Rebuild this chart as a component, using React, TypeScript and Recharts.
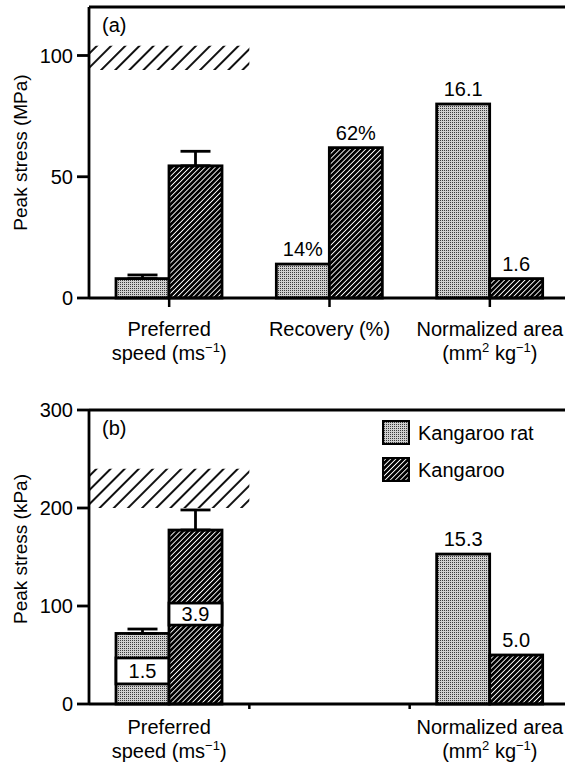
import React from 'react';
import { BarChart, Bar, XAxis, YAxis, ErrorBar, LabelList, ReferenceArea, ReferenceLine, Legend } from 'recharts';

const categories = ['Preferred speed', 'Recovery', 'Normalized area'];

// (a) peak stress, MPa
const ratPeakA = [8, 14, 80];
const kangarooPeakA = [54.5, 62, 8];
const ratErrA = [[0, 1.5], null, null];
const kangarooErrA = [[0, 6], null, null];
const ratTextA = ['', '14%', '16.1'];
const kangarooTextA = ['', '62%', '1.6'];
const yTicksA = [0, 50, 100];
const safeBandA = [94, 104];

// (b) peak stress, kPa
const ratPeakB = [72, null, 153];
const kangarooPeakB = [177.5, null, 50];
const ratErrB = [[0, 4.5], null, null];
const kangarooErrB = [[0, 20.5], null, null];
const ratTextB = ['', '', '15.3'];
const kangarooTextB = ['', '', '5.0'];
const ratInsetB = [{ lo: 20.5, hi: 47, text: '1.5' }, null, null];
const kangarooInsetB = [{ lo: 80.5, hi: 103, text: '3.9' }, null, null];
const yTicksB = [0, 100, 200, 300];
const safeBandB = [200, 240];

const tickLinesA = [['Preferred', 'speed (ms^{−1})'], ['Recovery (%)'], ['Normalized area', '(mm^{2} kg^{−1})']];
const tickLinesB = [['Preferred', 'speed (ms^{−1})'], [], ['Normalized area', '(mm^{2} kg^{−1})']];
const legendOrder = ['Kangaroo rat', 'Kangaroo'];

const dataA = categories.map((category, i) => ({
  category,
  rat: ratPeakA[i],
  kangaroo: kangarooPeakA[i],
  ratErr: ratErrA[i],
  kangarooErr: kangarooErrA[i],
  ratText: ratTextA[i],
  kangarooText: kangarooTextA[i],
}));

const dataB = categories.map((category, i) => ({
  category,
  rat: ratPeakB[i],
  kangaroo: kangarooPeakB[i],
  ratErr: ratErrB[i],
  kangarooErr: kangarooErrB[i],
  ratText: ratTextB[i],
  kangarooText: kangarooTextB[i],
  ratInset: ratInsetB[i],
  kangarooInset: kangarooInsetB[i],
}));

const fontFamily = '"Liberation Sans", Arial, Helvetica, sans-serif';
const ink = '#000';

const withSup = (s: string) => {
  const parts = s.split(/\^\{(.*?)\}/);
  let raised = false;
  return parts.map((p, i) => {
    const sup = i % 2 === 1;
    let dy = 0;
    if (sup && !raised) { dy = -8; raised = true; }
    else if (!sup && raised) { dy = 8; raised = false; }
    return (
      <tspan key={i} dy={dy || undefined} fontSize={sup ? 13 : undefined}>{p}</tspan>
    );
  });
};

const CategoryTick = (props: any) => {
  const { x, y, payload, lines, mode, labelTop } = props;
  const idx = payload.index;
  const half = payload.offset || 80;
  const txt: string[] = lines[idx] || [];
  return (
    <g>
      {mode === 'center' && <line x1={x} x2={x} y1={y} y2={y + 9} stroke={ink} strokeWidth={2.5} />}
      {mode === 'between' && idx < lines.length - 1 && (
        <line x1={x + half} x2={x + half} y1={y} y2={y + 5} stroke={ink} strokeWidth={2.5} />
      )}
      {txt.map((line, j) => (
        <text key={j} x={x} y={y + labelTop + j * 24} textAnchor="middle" fontSize={20} fill={ink}>
          {withSup(line)}
        </text>
      ))}
    </g>
  );
};

const AxisTitle = ({ viewBox, text, shift = 0 }: any) => {
  const cx = viewBox.x + 27;
  const cy = viewBox.y + viewBox.height / 2 + shift;
  return (
    <text x={cx} y={cy} transform={`rotate(-90, ${cx}, ${cy})`} textAnchor="middle" fontSize={19} fill={ink}>
      {text}
    </text>
  );
};

const PanelTag = ({ viewBox, text }: any) => (
  <text x={viewBox.x + 13} y={viewBox.y + 25} fontSize={20} fill={ink}>{text}</text>
);

const PatternBar = (props: any) => {
  const { x, y, width, height, fill, payload, valueKey, insetKey } = props;
  const v = payload[valueKey];
  if (v == null || !height) return null;
  const inset = insetKey ? payload[insetKey] : null;
  const base = y + height;
  const perUnit = height / v;
  return (
    <g>
      <rect x={x} y={y} width={width} height={height} fill={fill} stroke={ink} strokeWidth={2.8} />
      {inset && (
        <g>
          <rect
            x={x}
            y={base - inset.hi * perUnit}
            width={width}
            height={(inset.hi - inset.lo) * perUnit}
            fill="#fff"
            stroke={ink}
            strokeWidth={2.8}
          />
          <text x={x + width / 2} y={base - ((inset.hi + inset.lo) / 2) * perUnit} dy="0.36em" textAnchor="middle" fontSize={20} fill={ink}>
            {inset.text}
          </text>
        </g>
      )}
    </g>
  );
};

const LegendBox = ({ payload }: any) => {
  const items = [...(payload || [])].sort((a, b) => legendOrder.indexOf(a.value) - legendOrder.indexOf(b.value));
  return (
    <div>
      {items.map((it: any) => (
        <div key={it.value} style={{ display: 'flex', alignItems: 'center', height: 37 }}>
          <svg width={28} height={25}>
            <rect x={1} y={1} width={26} height={23} fill={it.color || it.payload?.fill} stroke={ink} strokeWidth={2.2} />
          </svg>
          <span style={{ marginLeft: 8, fontSize: 20, color: ink, lineHeight: '20px' }}>{it.value}</span>
        </div>
      ))}
    </div>
  );
};

const axisStroke = { stroke: ink, strokeWidth: 2.8 };

export default function App() {
  return (
    <div style={{ position: 'absolute', left: 0, top: 0, width: 565, height: 768, overflow: 'hidden', background: '#fff', fontFamily }}>
      <svg width={0} height={0} style={{ position: 'absolute' }}>
        <defs>
          <pattern id="stipple" width="2" height="2" patternUnits="userSpaceOnUse">
            <rect width="2" height="2" fill="#cfcfcf" />
            <rect width="1" height="1" fill="#3a3a3a" />
          </pattern>
          <pattern id="hatchDark" width="3.6" height="3.6" patternUnits="userSpaceOnUse" patternTransform="rotate(45)">
            <rect width="3.6" height="3.6" fill="#000" />
            <rect width="0.9" height="3.6" fill="#fff" />
          </pattern>
          <pattern id="hatchWide" width="10" height="10" patternUnits="userSpaceOnUse" patternTransform="rotate(45)">
            <rect width="10" height="10" fill="#fff" />
            <rect width="2" height="10" fill="#111" />
          </pattern>
        </defs>
      </svg>

      <div style={{ position: 'absolute', left: 0, top: 0 }}>
        <BarChart width={570} height={380} data={dataA} margin={{ top: 7, right: 0, bottom: 0, left: 0 }} barGap={0} barSize={53}>
          <XAxis
            dataKey="category"
            interval={0}
            height={82}
            tickLine={false}
            tickSize={0}
            tickMargin={0}
            axisLine={axisStroke}
            tick={<CategoryTick lines={tickLinesA} mode="center" labelTop={38} />}
          />
          <YAxis
            width={89}
            domain={[0, 120]}
            ticks={yTicksA}
            tickSize={12}
            tickMargin={4}
            tick={{ fill: ink, fontSize: 20 }}
            tickLine={axisStroke}
            axisLine={axisStroke}
            label={<AxisTitle text="Peak stress (MPa)" />}
          />
          <ReferenceArea x1={categories[0]} x2={categories[0]} y1={safeBandA[0]} y2={safeBandA[1]} fill="url(#hatchWide)" fillOpacity={1} stroke="none" />
          <ReferenceLine y={120} stroke={ink} strokeWidth={2.8} label={<PanelTag text="(a)" />} />
          <Bar dataKey="rat" name="Kangaroo rat" fill="url(#stipple)" isAnimationActive={false}
            shape={(p: any) => <PatternBar {...p} valueKey="rat" />}>
            <ErrorBar dataKey="ratErr" width={15} stroke={ink} strokeWidth={2.8} direction="y" />
            <LabelList dataKey="ratText" position="top" offset={8} fill={ink} fontSize={20} />
          </Bar>
          <Bar dataKey="kangaroo" name="Kangaroo" fill="url(#hatchDark)" isAnimationActive={false}
            shape={(p: any) => <PatternBar {...p} valueKey="kangaroo" />}>
            <ErrorBar dataKey="kangarooErr" width={15} stroke={ink} strokeWidth={2.8} direction="y" />
            <LabelList dataKey="kangarooText" position="top" offset={8} fill={ink} fontSize={20} />
          </Bar>
        </BarChart>
      </div>

      <div style={{ position: 'absolute', left: 0, top: 380 }}>
        <BarChart width={570} height={388} data={dataB} margin={{ top: 30, right: 0, bottom: 0, left: 0 }} barGap={0} barSize={53}>
          <XAxis
            dataKey="category"
            interval={0}
            height={64}
            tickLine={false}
            tickSize={0}
            tickMargin={0}
            axisLine={axisStroke}
            tick={<CategoryTick lines={tickLinesB} mode="between" labelTop={30} />}
          />
          <YAxis
            width={89}
            domain={[0, 300]}
            ticks={yTicksB}
            tickSize={12}
            tickMargin={4}
            tick={{ fill: ink, fontSize: 20 }}
            tickLine={axisStroke}
            axisLine={axisStroke}
            label={<AxisTitle text="Peak stress (kPa)" shift={-8} />}
          />
          <ReferenceArea x1={categories[0]} x2={categories[0]} y1={safeBandB[0]} y2={safeBandB[1]} fill="url(#hatchWide)" fillOpacity={1} stroke="none" />
          <ReferenceLine y={300} stroke={ink} strokeWidth={2.8} label={<PanelTag text="(b)" />} />
          <Legend
            content={<LegendBox />}
            layout="horizontal"
            verticalAlign="middle"
            align="center"
            wrapperStyle={{ left: 382, top: 34, width: 180 }}
          />
          <Bar dataKey="rat" name="Kangaroo rat" fill="url(#stipple)" isAnimationActive={false}
            shape={(p: any) => <PatternBar {...p} valueKey="rat" insetKey="ratInset" />}>
            <ErrorBar dataKey="ratErr" width={15} stroke={ink} strokeWidth={2.8} direction="y" />
            <LabelList dataKey="ratText" position="top" offset={8} fill={ink} fontSize={20} />
          </Bar>
          <Bar dataKey="kangaroo" name="Kangaroo" fill="url(#hatchDark)" isAnimationActive={false}
            shape={(p: any) => <PatternBar {...p} valueKey="kangaroo" insetKey="kangarooInset" />}>
            <ErrorBar dataKey="kangarooErr" width={15} stroke={ink} strokeWidth={2.8} direction="y" />
            <LabelList dataKey="kangarooText" position="top" offset={8} fill={ink} fontSize={20} />
          </Bar>
        </BarChart>
      </div>
    </div>
  );
}
